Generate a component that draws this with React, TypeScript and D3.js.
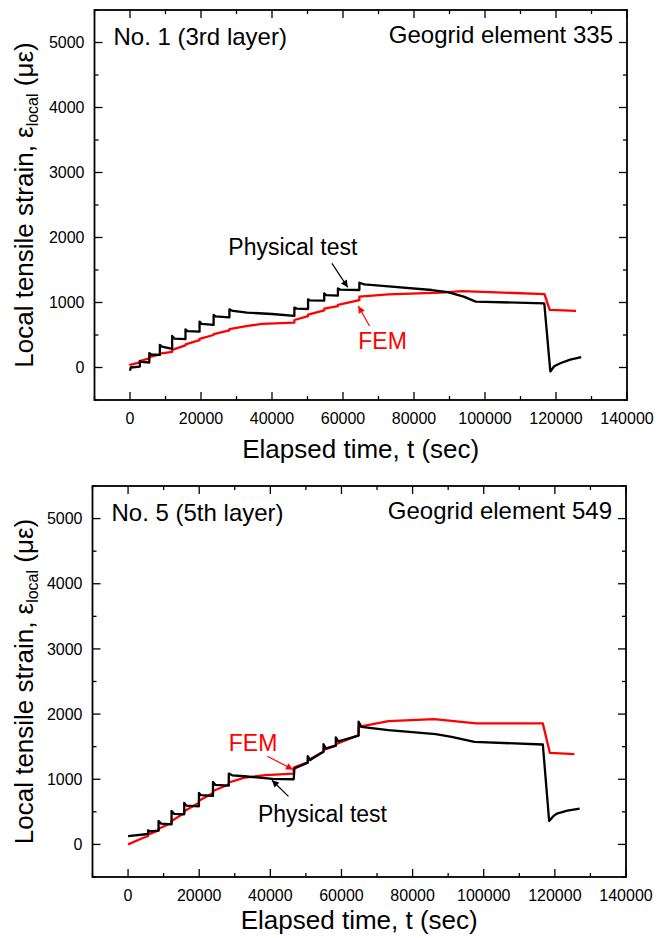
import React from "react";
import * as d3 from "d3";

// ---------- data (t in seconds, strain in micro-strain) ----------
const xMajorTicks = [0, 20000, 40000, 60000, 80000, 100000, 120000, 140000];
const yMajorTicks = [0, 1000, 2000, 3000, 4000, 5000];

const topPhysical: [number, number][] = [
  [0, -50], [200, 0], [2770, 15],
  [2770, 102], [3200, 85], [5440, 77],
  [5440, 220], [5900, 200], [8410, 194],
  [8410, 348], [9000, 320], [11870, 286],
  [11870, 486], [12500, 445], [15630, 435],
  [15630, 588], [16200, 560], [19590, 552],
  [19590, 706], [20200, 670], [23550, 655],
  [23550, 808], [24100, 785], [28000, 772],
  [28000, 895], [29000, 870], [33000, 844], [40000, 823], [46300, 793],
  [46300, 921], [47000, 905], [50160, 900],
  [50160, 1049], [50700, 1032], [54710, 1028],
  [54710, 1141], [55300, 1115], [58570, 1105],
  [58570, 1217], [59200, 1198], [64610, 1192],
  [64610, 1304], [66000, 1280], [72000, 1253], [85000, 1192], [89500, 1160],
  [94000, 1090], [97400, 1013], [116700, 987],
  [118400, -61], [119500, 20], [121200, 66], [124000, 120], [127100, 159],
];

const topFEM: [number, number][] = [
  [0, 30], [0, 41], [2770, 80], [2770, 100], [5440, 140], [5440, 160],
  [8410, 200], [8410, 215], [11870, 240], [11870, 271], [15630, 340], [15630, 355],
  [19590, 420], [19590, 440], [23550, 500], [23550, 515], [28000, 570], [28000, 590],
  [33150, 639], [37100, 670], [46300, 690], [46300, 731], [50160, 790], [50160, 815],
  [54710, 880], [54710, 905], [58570, 945], [58570, 965], [64610, 1035], [64610, 1089],
  [72720, 1125], [87560, 1151], [93500, 1176], [116750, 1130], [118230, 885], [125650, 870],
];

const bottomPhysical: [number, number][] = [
  [0, 128], [5620, 160], [5620, 215], [6200, 200], [8580, 212],
  [8580, 359], [9300, 320], [12230, 308],
  [12230, 513], [12900, 470], [15790, 462],
  [15790, 636], [16400, 595], [19930, 585],
  [19930, 790], [20500, 755], [23880, 744],
  [23880, 959], [24500, 915], [28320, 903],
  [28320, 1087], [29300, 1060], [32750, 1046], [40650, 1005], [46570, 1000],
  [46770, 1164], [50510, 1255],
  [50510, 1354], [51200, 1295], [54950, 1425],
  [54950, 1538], [55600, 1475], [58410, 1515],
  [58410, 1641], [59100, 1580], [64820, 1670],
  [64820, 1882], [65600, 1805], [73200, 1754], [86520, 1692], [90970, 1651],
  [97380, 1574], [116620, 1533],
  [118390, 359], [119500, 430], [120560, 472], [123500, 520], [126970, 549],
];

const bottomFEM: [number, number][] = [
  [0, 0], [3650, 87], [5620, 130], [5620, 150], [8580, 215], [8580, 240],
  [12230, 330], [12230, 360], [15790, 480], [15790, 510], [19930, 640], [19930, 670],
  [23880, 790], [23880, 820], [28320, 920], [28320, 950], [32750, 1026], [38680, 1062],
  [46570, 1087], [46570, 1179], [50510, 1260], [50510, 1290], [54950, 1420], [54950, 1450],
  [58410, 1515], [58410, 1540], [64820, 1677], [64820, 1805], [73200, 1892], [86030, 1923],
  [90970, 1897], [97870, 1856], [116620, 1856], [118590, 1405], [125500, 1385],
];

const FONT = "'Liberation Sans', Arial, Helvetica, sans-serif";

type Ann = { text: string; color: string; t: number; v: number; from: [number, number]; to: [number, number] };

type PanelProps = {
  left: number; right: number; top: number; bottom: number; titleGap: number;
  physical: [number, number][]; fem: [number, number][];
  title: string; element: string; anns: Ann[]; id: string;
};

function Panel({ left, right, top, bottom, titleGap, physical, fem, title, element, anns, id }: PanelProps) {
  const x = d3.scaleLinear().domain([-10000, 140000]).range([left, right]);
  const y = d3.scaleLinear().domain([-500, 5500]).range([bottom, top]);
  const line = d3.line<[number, number]>().x((d) => x(d[0])).y((d) => y(d[1]));
  const xMinor = d3.range(-10000, 140001, 10000);
  const yMinor = d3.range(-500, 5501, 500);
  const isMajX = (t: number) => t >= 0 && t % 20000 === 0;
  const isMajY = (v: number) => v >= 0 && v % 1000 === 0 && v <= 5000;
  const cy = (top + bottom) / 2;
  return (
    <g>
      <defs>
        <marker id={`ab-${id}`} viewBox="0 0 10 10" refX="10" refY="5" markerWidth="9" markerHeight="7" markerUnits="userSpaceOnUse" orient="auto">
          <path d="M0,0 L10,5 L0,10 z" fill="#000" />
        </marker>
        <marker id={`ar-${id}`} viewBox="0 0 10 10" refX="10" refY="5" markerWidth="9" markerHeight="7" markerUnits="userSpaceOnUse" orient="auto">
          <path d="M0,0 L10,5 L0,10 z" fill="#ff0000" />
        </marker>
      </defs>
      {xMinor.map((t) => {
        const L = isMajX(t) ? 8 : 4;
        return (
          <g key={`xt${t}`} stroke="#000" strokeWidth={1.3}>
            <line x1={x(t)} x2={x(t)} y1={bottom} y2={bottom - L} />
            <line x1={x(t)} x2={x(t)} y1={top} y2={top + L} />
          </g>
        );
      })}
      {yMinor.map((v) => {
        const L = isMajY(v) ? 8 : 4;
        return (
          <g key={`yt${v}`} stroke="#000" strokeWidth={1.3}>
            <line x1={left} x2={left + L} y1={y(v)} y2={y(v)} />
            <line x1={right} x2={right - L} y1={y(v)} y2={y(v)} />
          </g>
        );
      })}
      {xMajorTicks.map((t) => (
        <text key={`xl${t}`} x={x(t)} y={bottom + 24} fontSize={16} textAnchor="middle" fontFamily={FONT} fill="#000">
          {t}
        </text>
      ))}
      {yMajorTicks.map((v) => (
        <text key={`yl${v}`} x={left - 10} y={y(v) + 5.7} fontSize={16} textAnchor="end" fontFamily={FONT} fill="#000">
          {v}
        </text>
      ))}
      <rect x={left} y={top} width={right - left} height={bottom - top} fill="none" stroke="#000" strokeWidth={1.8} />
      <path d={line(fem) || ""} fill="none" stroke="#ff0000" strokeWidth={2.3} strokeLinejoin="round" />
      <path d={line(physical) || ""} fill="none" stroke="#000" strokeWidth={2.3} strokeLinejoin="round" />
      <text x={left + 19} y={top + 35} fontSize={24} fontFamily={FONT} fill="#000">{title}</text>
      <text x={right - 14} y={top + 33} fontSize={24} fontFamily={FONT} fill="#000" textAnchor="end">{element}</text>
      {anns.map((a, i) => (
        <g key={`a${i}`}>
          <text x={x(a.t)} y={y(a.v)} fontSize={23} fontFamily={FONT} fill={a.color}>{a.text}</text>
          <line
            x1={x(a.from[0])} y1={y(a.from[1])} x2={x(a.to[0])} y2={y(a.to[1])}
            stroke={a.color} strokeWidth={1.2}
            markerEnd={`url(#${a.color === "#000" ? "ab" : "ar"}-${id})`}
          />
        </g>
      ))}
      <text x={(left + right) / 2} y={bottom + titleGap} fontSize={26} textAnchor="middle" fontFamily={FONT} fill="#000">
        Elapsed time, t (sec)
      </text>
      <text transform={`translate(33,${cy}) rotate(-90)`} fontSize={26} textAnchor="middle" fontFamily={FONT} fill="#000">
        Local tensile strain, ε<tspan fontSize={16} dy={5}>local</tspan><tspan dy={-5}> (με)</tspan>
      </text>
    </g>
  );
}

export default function App() {
  return (
    <svg width={656} height={938} style={{ position: "absolute", left: 0, top: 0, background: "#fff" }}>
      <rect width={656} height={938} fill="#fff" />
      <Panel
        id="p1" left={94.5} right={627} top={10} bottom={400} titleGap={58}
        physical={topPhysical} fem={topFEM}
        title="No. 1 (3rd layer)" element="Geogrid element 335"
        anns={[
          { text: "Physical test", color: "#000", t: 27700, v: 1729, from: [56890, 1601], to: [61340, 1233] },
          { text: "FEM", color: "#ff0000", t: 64310, v: 281, from: [67480, 639], to: [64310, 946] },
        ]}
      />
      <Panel
        id="p2" left={92.5} right={626} top={486} bottom={877} titleGap={52}
        physical={bottomPhysical} fem={bottomFEM}
        title="No. 5 (5th layer)" element="Geogrid element 549"
        anns={[
          { text: "FEM", color: "#ff0000", t: 28320, v: 1431, from: [39170, 1354], to: [46370, 1149] },
          { text: "Physical test", color: "#000", t: 36500, v: 344, from: [45090, 738], to: [40450, 985] },
        ]}
      />
    </svg>
  );
}
